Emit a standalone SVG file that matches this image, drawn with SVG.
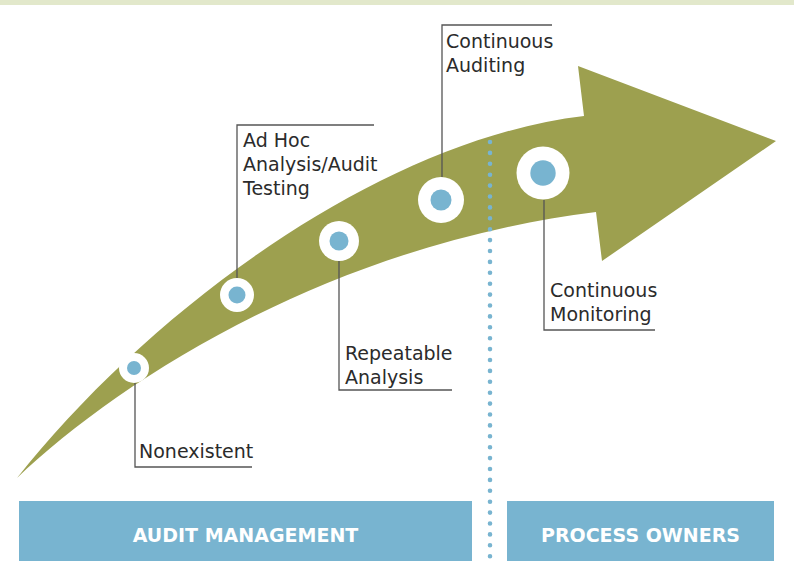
<svg xmlns="http://www.w3.org/2000/svg" width="794" height="561" viewBox="0 0 794 561">
  <style>
    .label { font-family: "DejaVu Sans", "Liberation Sans", sans-serif; font-size: 19px; fill: #2b2b2b; }
    .leader { fill: none; stroke: #555555; stroke-width: 1.3; }
    .ring { fill: #ffffff; }
    .dot { fill: #78b4d0; }
    .bar { fill: #78b4d0; }
    .bar-text { font-family: "DejaVu Sans", "Liberation Sans", sans-serif; font-size: 19px; font-weight: bold; fill: #ffffff; text-anchor: middle; }
  </style>

  <!-- top band -->
  <rect x="0" y="0" width="794" height="5" fill="#e2e8cb"/>

  <!-- curved maturity arrow -->
  <path id="arrow" fill="#9da04f"
        d="M17,478 C150,310 380,140 584,116 L578,66 L776,141 L602,261 L596,212 C330,245 120,380 17,478 Z"/>

  <!-- divider between audit management and process owners -->
  <line x1="490" y1="142" x2="490" y2="561" stroke="#78b4d0" stroke-width="4.6" stroke-linecap="round" stroke-dasharray="0 10.9"/>

  <!-- leader lines -->
  <g id="connectors">
    <polyline class="leader" points="135,383 135,467 252,467"/>
    <polyline class="leader" points="237,278 237,125 374,125"/>
    <polyline class="leader" points="339,261 339,390 452,390"/>
    <polyline class="leader" points="442,177 442,25 552,25"/>
    <polyline class="leader" points="544,200 544,330 655,330"/>
  </g>

  <g id="nonexistent">
    <circle class="ring" cx="134" cy="368" r="15"/>
    <circle class="dot" cx="134" cy="368" r="7"/>
    <text class="label" x="139" y="458">Nonexistent</text>
  </g>

  <g id="ad-hoc">
    <circle class="ring" cx="237" cy="295" r="17"/>
    <circle class="dot" cx="237" cy="295" r="8.5"/>
    <text class="label" x="243" y="147">Ad Hoc</text>
    <text class="label" x="243" y="171">Analysis/Audit</text>
    <text class="label" x="243" y="195">Testing</text>
  </g>

  <g id="repeatable">
    <circle class="ring" cx="339" cy="241" r="20"/>
    <circle class="dot" cx="339" cy="241" r="9.5"/>
    <text class="label" x="345" y="360">Repeatable</text>
    <text class="label" x="345" y="384">Analysis</text>
  </g>

  <g id="continuous-auditing">
    <circle class="ring" cx="441" cy="200" r="23"/>
    <circle class="dot" cx="441" cy="200" r="10.5"/>
    <text class="label" x="446" y="48">Continuous</text>
    <text class="label" x="446" y="72">Auditing</text>
  </g>

  <g id="continuous-monitoring">
    <circle class="ring" cx="543" cy="173" r="26.5"/>
    <circle class="dot" cx="543" cy="173" r="12.7"/>
    <text class="label" x="550" y="297">Continuous</text>
    <text class="label" x="550" y="321">Monitoring</text>
  </g>

  <g id="audit-management">
    <rect class="bar" x="19" y="501" width="453" height="60"/>
    <text class="bar-text" x="245.5" y="542">AUDIT MANAGEMENT</text>
  </g>

  <g id="process-owners">
    <rect class="bar" x="507" y="501" width="267" height="60"/>
    <text class="bar-text" x="640.5" y="542">PROCESS OWNERS</text>
  </g>
</svg>
